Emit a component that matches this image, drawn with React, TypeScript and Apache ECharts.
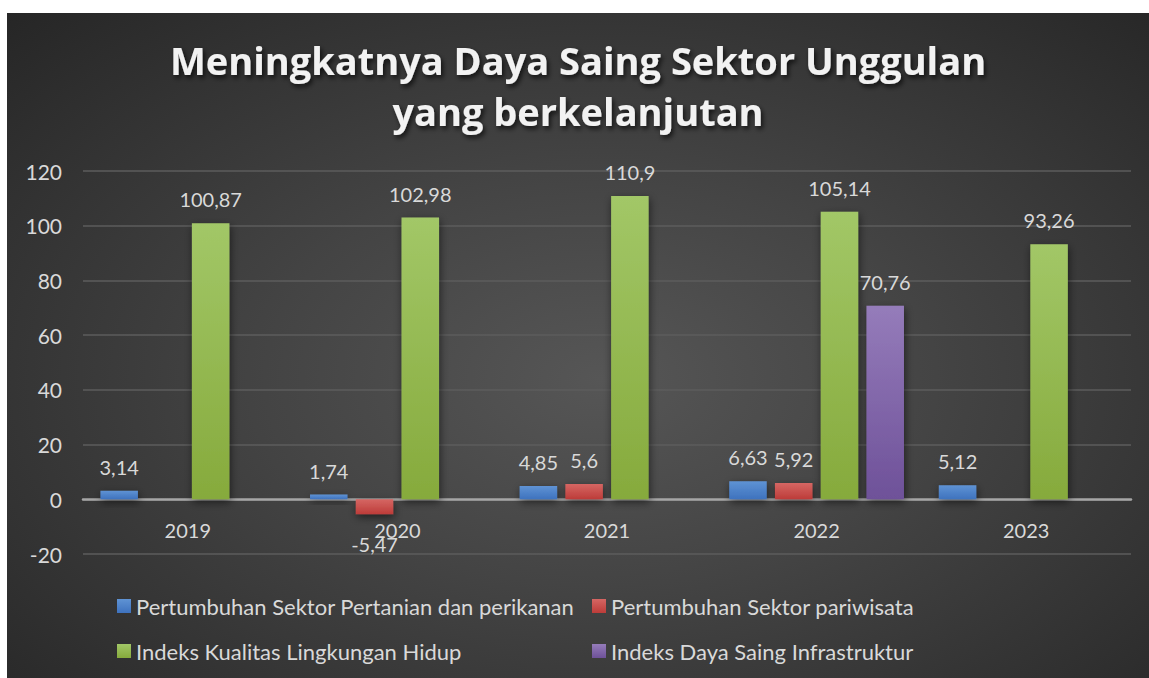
import React, { useEffect, useRef } from "react";
import * as echarts from "echarts";

const categories = ["2019", "2020", "2021", "2022", "2023"];
const pertanian = [3.14, 1.74, 4.85, 6.63, 5.12];
const pariwisata = [null, -5.47, 5.6, 5.92, null];
const lingkungan = [100.87, 102.98, 110.9, 105.14, 93.26];
const infrastruktur = [null, null, null, 70.76, null];
const seriesNames = [
  "Pertumbuhan Sektor Pertanian dan perikanan",
  "Pertumbuhan Sektor pariwisata",
  "Indeks Kualitas Lingkungan Hidup",
  "Indeks Daya Saing Infrastruktur",
];
const titleText = "Meningkatnya Daya Saing Sektor Unggulan\nyang berkelanjutan";

const FONT = "Lato, 'Open Sans', sans-serif";
const TXT = "#d9d9d9";

function grad(top: string, bottom: string) {
  return new echarts.graphic.LinearGradient(0, 0, 0, 1, [
    { offset: 0, color: top },
    { offset: 1, color: bottom },
  ]);
}

export default function App() {
  const ref = useRef<HTMLDivElement>(null);
  useEffect(() => {
    if (!ref.current) return;
    const chart = echarts.init(ref.current, undefined, { renderer: "svg" });
    const fmt = (p: any) =>
      p.value == null || p.value === "-" ? "" : String(p.value).replace(".", ",");
    const label = {
      show: true,
      position: "top" as const,
      distance: 14,
      color: TXT,
      fontFamily: FONT,
      fontSize: 20,
      formatter: fmt,
    };
    const shadow = {
      shadowBlur: 8,
      shadowColor: "rgba(0,0,0,0.55)",
      shadowOffsetY: 3,
      shadowOffsetX: 1,
    };
    const colors = [
      grad("#5f93d4", "#3e72be"),
      grad("#d56663", "#bd3c39"),
      grad("#a2c767", "#86aa3c"),
      grad("#957cba", "#6e5199"),
    ];
    const dataSets = [pertanian, pariwisata, lingkungan, infrastruktur];
    const series = dataSets.map((d, i) => ({
      name: seriesNames[i],
      type: "bar" as const,
      barWidth: 37.5,
      barGap: "22%",
      itemStyle: { color: colors[i], ...shadow },
      label,
      data: d.map((v) =>
        v == null
          ? "-"
          : v < 0
          ? { value: v, label: { position: "bottom", distance: 20 } }
          : v
      ),
    }));
    const legendPos = [
      { left: 110, top: 582 },
      { left: 585, top: 582 },
      { left: 110, top: 627 },
      { left: 585, top: 627 },
    ];
    chart.setOption({
      animation: false,
      color: colors,
      title: {
        text: titleText,
        left: "center",
        top: 16,
        textStyle: {
          color: "#f2f2f2",
          fontFamily: "'Open Sans', Lato, sans-serif",
          fontWeight: "bold",
          fontSize: 38,
          lineHeight: 51,
          textShadowColor: "rgba(0,0,0,0.7)",
          textShadowBlur: 5,
          textShadowOffsetX: 2,
          textShadowOffsetY: 3,
        },
      },
      legend: legendPos.map((p, i) => ({
        data: [seriesNames[i]],
        left: p.left,
        top: p.top,
        padding: 0,
        icon: "rect",
        itemWidth: 14,
        itemHeight: 14,
        itemGap: 6,
        textStyle: { color: TXT, fontFamily: FONT, fontSize: 22 },
        selectedMode: false,
      })),
      grid: { left: 76, right: 18, top: 158, bottom: 124 },
      xAxis: {
        type: "category",
        data: categories,
        axisLine: { onZero: true, lineStyle: { color: "#a6a6a6", width: 2.5 } },
        axisTick: { show: false },
        axisLabel: { color: TXT, fontFamily: FONT, fontSize: 20, margin: -34 },
        splitLine: { show: false },
      },
      yAxis: {
        type: "value",
        min: -20,
        max: 120,
        interval: 20,
        axisLine: { show: false },
        axisTick: { show: false },
        axisLabel: { color: TXT, fontFamily: FONT, fontSize: 21, margin: 21 },
        splitLine: { lineStyle: { color: "#5c5c5c", width: 1.5 } },
      },
      series,
    });
    return () => chart.dispose();
  }, []);
  return (
    <div
      style={{
        position: "absolute",
        left: 7,
        top: 13,
        width: 1142,
        height: 665,
        background:
          "radial-gradient(ellipse at 52% 55%, #565656 0%, #444444 40%, #262626 100%)",
      }}
    >
      <div ref={ref} style={{ width: 1142, height: 665 }} />
    </div>
  );
}
